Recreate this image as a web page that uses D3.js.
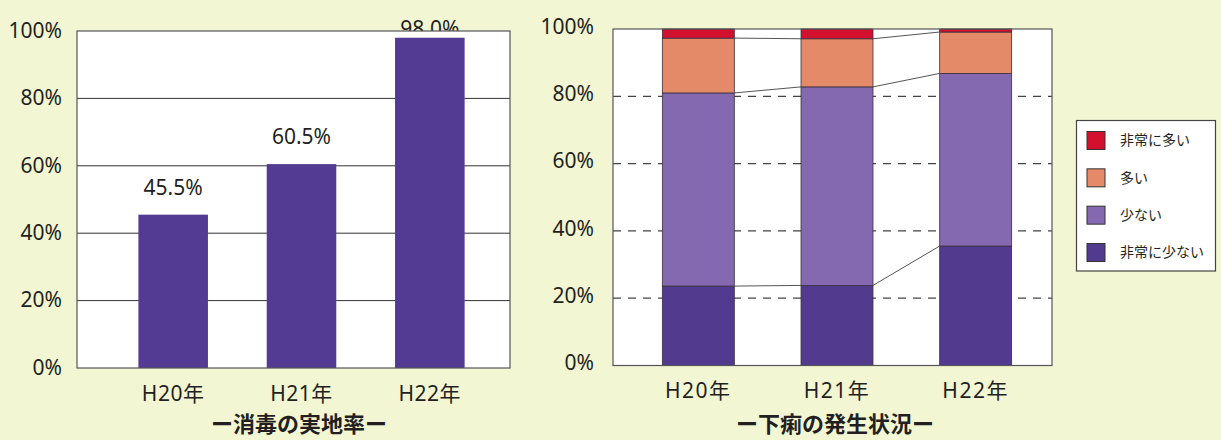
<!DOCTYPE html>
<html><head><meta charset="utf-8">
<script src="https://cdn.jsdelivr.net/npm/d3@7"></script>
<style>
html,body{margin:0;padding:0;background:#f2f6d3;}
svg{display:block;}
text{font-family:"Noto Sans","Noto Sans CJK JP",sans-serif;fill:#231f20;}
</style></head><body>
<svg id="c" width="1221" height="440"></svg>
<script>
// ---- data ----
const years = ["H20年", "H21年", "H22年"];
const disinfectRate = [45.5, 60.5, 98.0];
const rateLabels = ["45.5%", "60.5%", "98.0%"];
const yTicks = [0, 20, 40, 60, 80, 100];
const seriesNames = ["非常に少ない", "少ない", "多い", "非常に多い"];
const veryFew = [23.6, 23.8, 35.5];
const few = [57.4, 59.0, 51.3];
const many = [16.3, 14.3, 12.3];
const veryMany = [2.7, 2.9, 0.9];
const seriesColors = ["#523a8e", "#8468b0", "#e48a68", "#d3112e"];
const title1 = "ー消毒の実地率ー";
const title2 = "ー下痢の発生状況ー";

const svg = d3.select("#c");
svg.append("rect").attr("width", 1221).attr("height", 440).attr("fill", "#f2f6d3");

// ---------- Left chart ----------
{
  const L = 77, R = 510, T = 31, B = 368;
  const x = d3.scaleBand().domain(years).range([109, 494]).paddingInner(0.458).paddingOuter(0.229);
  const y = d3.scaleLinear().domain([0, 100]).range([B, T]);
  const g = svg.append("g");
  const lab = rateLabels.map((t, i) => ({t, v: disinfectRate[i], k: years[i]}));
  const behind = lab.filter(d => y(d.v) - 20 - 16 < T);
  const front = lab.filter(d => y(d.v) - 20 - 16 >= T);
  g.selectAll("text.lb").data(behind).join("text")
    .attr("x", d => x(d.k) + x.bandwidth() / 2).attr("y", d => y(d.v) - 2)
    .attr("text-anchor", "middle").attr("font-size", 21).text(d => d.t);
  g.append("rect").attr("x", L).attr("y", T).attr("width", R - L).attr("height", B - T)
    .attr("fill", "#fff");
  g.selectAll("line.grid").data(yTicks.filter(t => t > 0 && t < 100)).join("line")
    .attr("x1", L).attr("x2", R).attr("y1", d => y(d)).attr("y2", d => y(d))
    .attr("stroke", "#333").attr("stroke-width", 1);
  g.selectAll("rect.bar").data(disinfectRate).join("rect")
    .attr("x", (d, i) => x(years[i])).attr("width", x.bandwidth())
    .attr("y", d => y(d)).attr("height", d => B - y(d)).attr("fill", "#533a92");
  g.append("rect").attr("x", L).attr("y", T).attr("width", R - L).attr("height", B - T)
    .attr("fill", "none").attr("stroke", "#555").attr("stroke-width", 1.2);
  g.selectAll("text.fl").data(front).join("text")
    .attr("x", d => x(d.k) + x.bandwidth() / 2).attr("y", d => y(d.v) - 20)
    .attr("text-anchor", "middle").attr("font-size", 21).text(d => d.t);
  const ya = d3.axisLeft(y).tickValues(yTicks).tickFormat(d => d + "%").tickSize(0).tickPadding(0);
  const ag = g.append("g").attr("transform", "translate(62,0)").call(ya);
  ag.select(".domain").remove();
  ag.selectAll("text").attr("font-size", 21).attr("fill", "#231f20").attr("font-family", "Noto Sans").attr("dy", "0.3em");
  const xa = d3.axisBottom(x).tickSize(0).tickPadding(0);
  const xg = g.append("g").attr("transform", "translate(0,401)").call(xa);
  xg.select(".domain").remove();
  xg.selectAll("text").attr("font-size", 21).attr("fill", "#231f20").attr("dy", 0).attr("letter-spacing", "0.5px")
    .attr("font-family", "Noto Sans, Noto Sans CJK JP");
  g.append("text").attr("x", 299).attr("y", 432).attr("text-anchor", "middle")
    .attr("font-size", 22).attr("font-weight", "bold").attr("font-family", "Noto Sans CJK JP").text(title1);
}

// ---------- Right chart ----------
{
  const L = 613, R = 1052, T = 29, B = 365.5;
  const x = d3.scaleBand().domain(years).range([629, 1045]).paddingInner(0.481).paddingOuter(0.2405);
  const y = d3.scaleLinear().domain([0, 100]).range([B, T]);
  const g = svg.append("g");
  g.append("rect").attr("x", L).attr("y", T).attr("width", R - L).attr("height", B - T).attr("fill", "#fff");
  g.selectAll("line.grid").data(yTicks.filter(t => t > 0 && t < 100)).join("line")
    .attr("x1", L).attr("x2", R).attr("y1", d => y(d)).attr("y2", d => y(d))
    .attr("stroke", "#444").attr("stroke-width", 1.2).attr("stroke-dasharray", "8,7");
  const rows = years.map((k, i) => ({k, "非常に少ない": veryFew[i], "少ない": few[i], "多い": many[i], "非常に多い": veryMany[i]}));
  const stack = d3.stack().keys(seriesNames)(rows);
  g.selectAll("g.s").data(stack).join("g").attr("fill", (d, i) => seriesColors[i])
    .selectAll("rect").data(d => d).join("rect")
    .attr("x", d => x(d.data.k)).attr("width", x.bandwidth())
    .attr("y", d => y(d[1])).attr("height", d => y(d[0]) - y(d[1]))
    .attr("stroke", "#3a2f3f").attr("stroke-width", 0.8);
  const conn = [];
  stack.slice(0, 3).forEach(s => {
    for (let i = 0; i < years.length - 1; i++) {
      conn.push({x1: x(years[i]) + x.bandwidth(), y1: y(s[i][1]), x2: x(years[i + 1]), y2: y(s[i + 1][1])});
    }
  });
  g.selectAll("line.conn").data(conn).join("line")
    .attr("x1", d => d.x1).attr("x2", d => d.x2).attr("y1", d => d.y1).attr("y2", d => d.y2)
    .attr("stroke", "#555").attr("stroke-width", 1);
  g.append("rect").attr("x", L).attr("y", T).attr("width", R - L).attr("height", B - T)
    .attr("fill", "none").attr("stroke", "#555").attr("stroke-width", 1.2);
  const ya = d3.axisLeft(y).tickValues(yTicks).tickFormat(d => d + "%").tickSize(0).tickPadding(0);
  const ag = g.append("g").attr("transform", "translate(594,-2)").call(ya);
  ag.select(".domain").remove();
  ag.selectAll("text").attr("font-size", 21).attr("fill", "#231f20").attr("font-family", "Noto Sans").attr("dy", "0.3em");
  const xa = d3.axisBottom(x).tickSize(0).tickPadding(0);
  const xg = g.append("g").attr("transform", "translate(0,398)").call(xa);
  xg.select(".domain").remove();
  xg.selectAll("text").attr("font-size", 21).attr("fill", "#231f20").attr("dy", 0).attr("letter-spacing", "1.5px")
    .attr("font-family", "Noto Sans, Noto Sans CJK JP");
  g.append("text").attr("x", 835).attr("y", 432).attr("text-anchor", "middle")
    .attr("font-size", 22).attr("font-weight", "bold").attr("font-family", "Noto Sans CJK JP").text(title2);

  // legend
  const lg = svg.append("g");
  lg.append("rect").attr("x", 1076.5).attr("y", 120.5).attr("width", 139).attr("height", 150.5)
    .attr("fill", "#fff").attr("stroke", "#444").attr("stroke-width", 1.2);
  const legendOrder = seriesNames.map((n, i) => ({n, c: seriesColors[i]})).reverse();
  const ly = d3.scalePoint().domain(legendOrder.map(d => d.n)).range([140.5, 252.5]);
  const it = lg.selectAll("g.it").data(legendOrder).join("g")
    .attr("transform", d => `translate(0,${ly(d.n)})`);
  it.append("rect").attr("x", 1087).attr("y", -9).attr("width", 18).attr("height", 18)
    .attr("fill", d => d.c).attr("stroke", "#333").attr("stroke-width", 1);
  it.append("text").attr("x", 1120).attr("y", 0).attr("dy", "0.35em").attr("font-size", 14)
    .attr("font-family", "Noto Sans CJK JP").text(d => d.n);
}
</script>
</body></html>
